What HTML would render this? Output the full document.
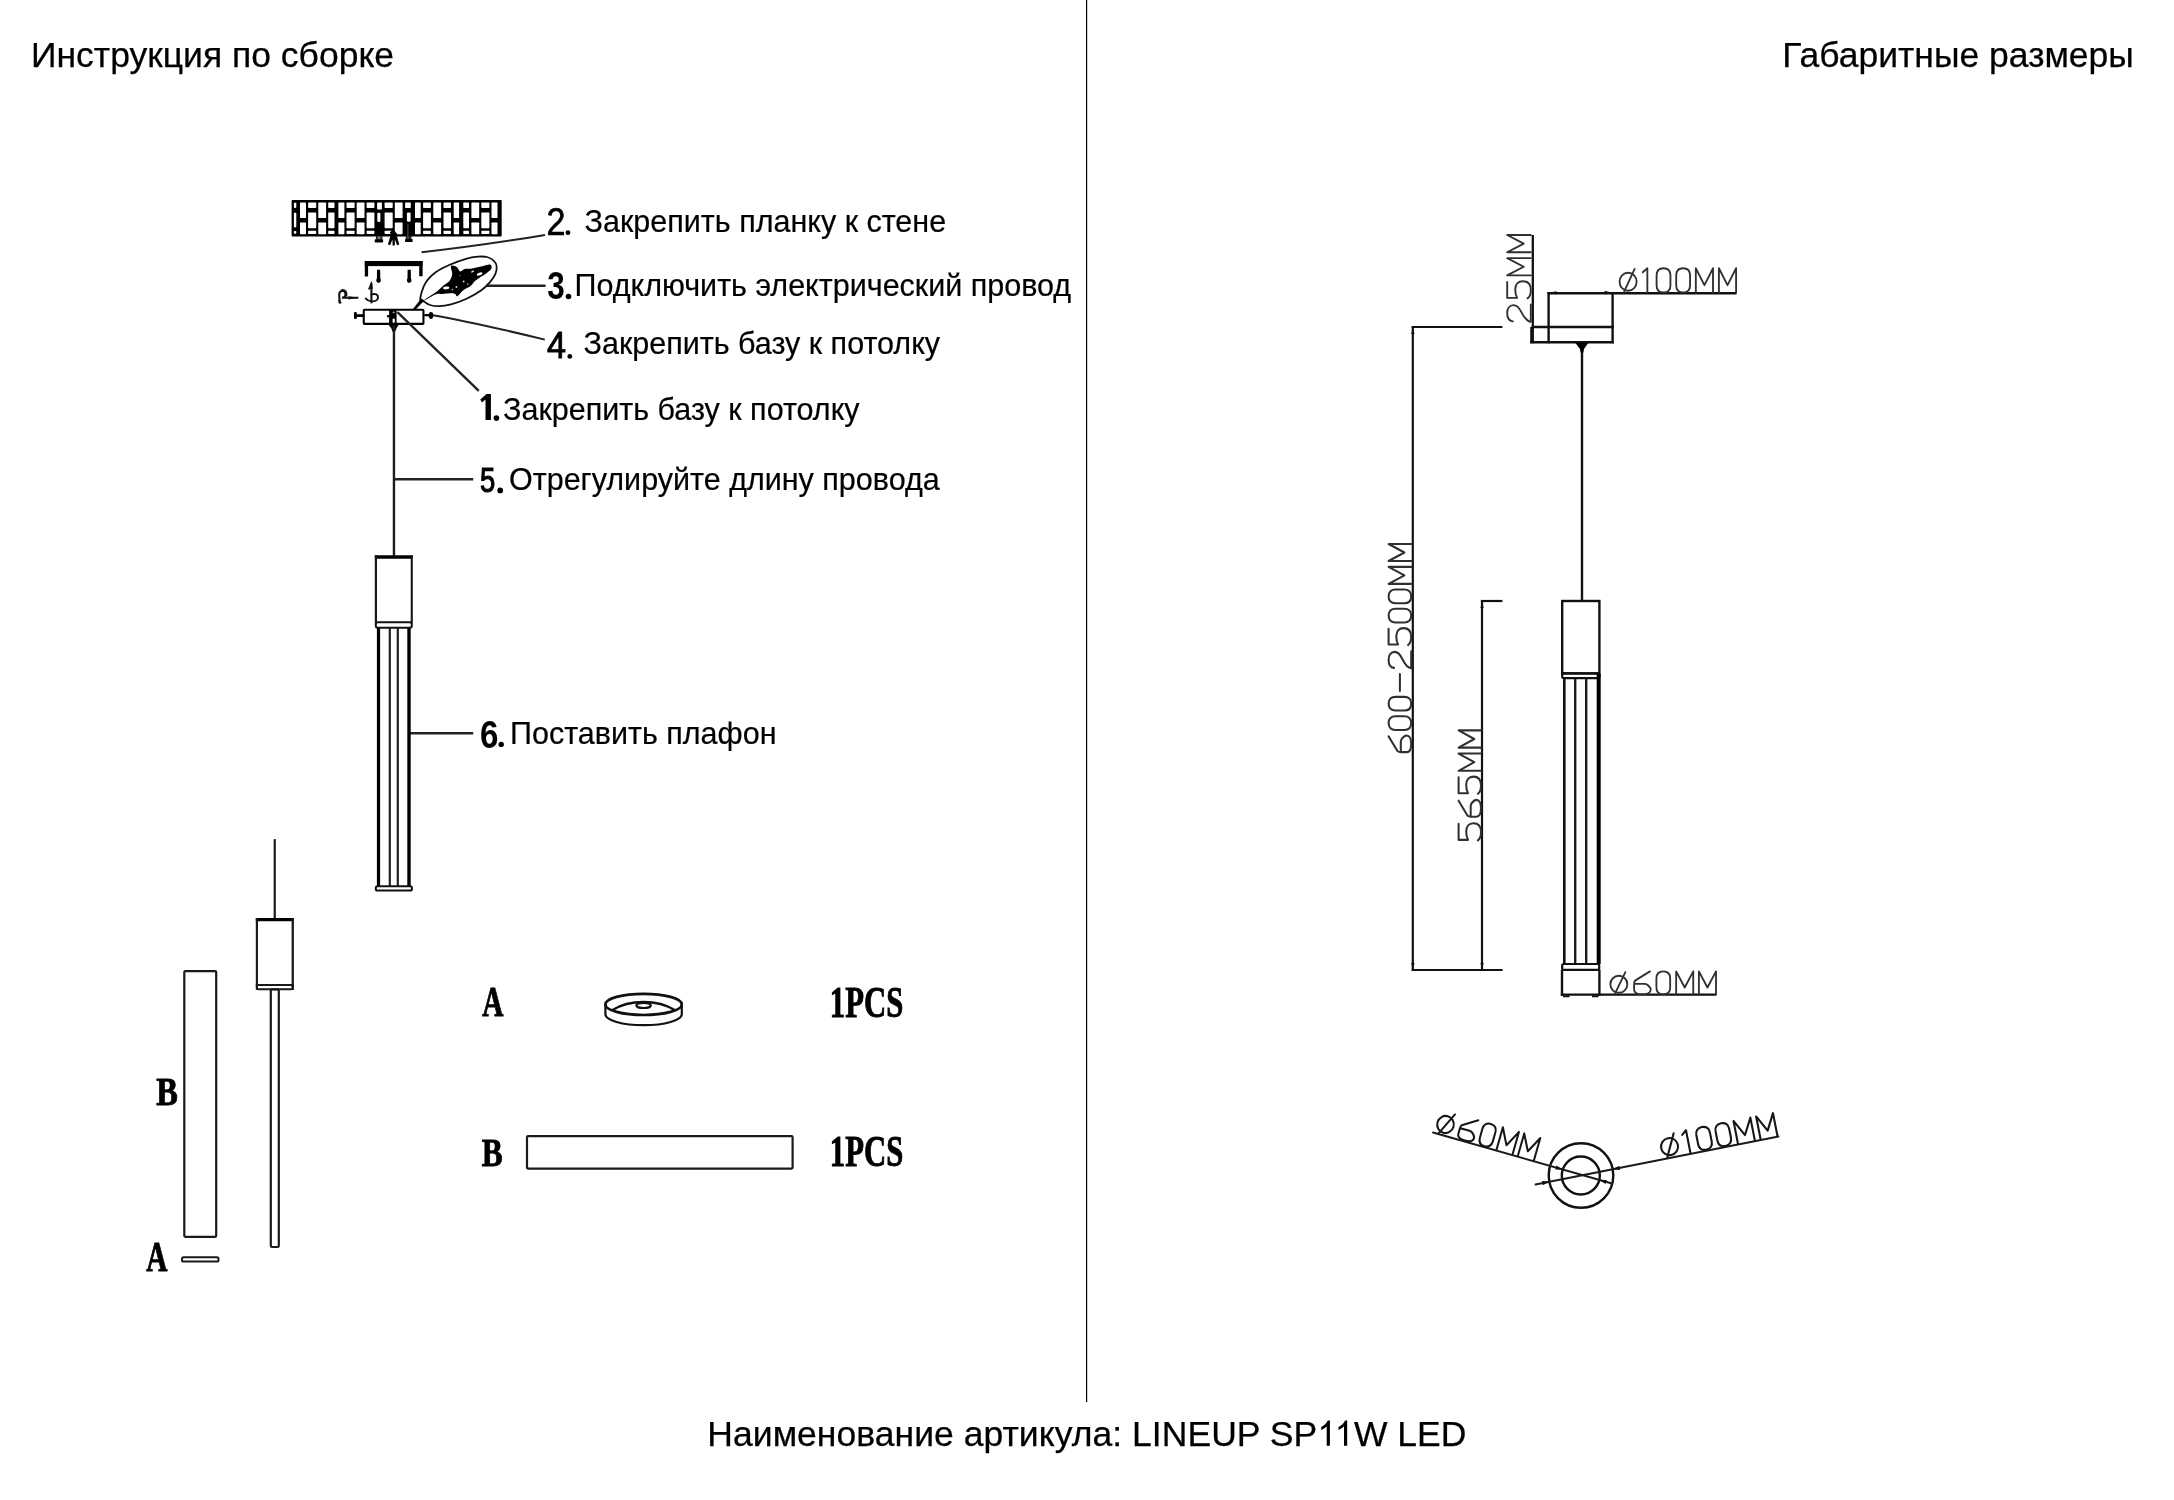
<!DOCTYPE html>
<html><head><meta charset="utf-8"><title>LINEUP SP11W LED</title>
<style>
html,body{margin:0;padding:0;background:#fff;}
body{width:2174px;height:1500px;overflow:hidden;font-family:"Liberation Sans",sans-serif;}
svg{display:block;position:absolute;left:0;top:0;filter:grayscale(1);}
text{font-family:"Liberation Sans",sans-serif;fill:#000;}
.t{font-size:35.5px;stroke:#000;stroke-width:0.25px;}
.l{font-size:30.5px;stroke:#000;stroke-width:0.2px;}
.sf{font-family:"Liberation Serif",serif;font-weight:bold;stroke:#000;stroke-width:0.9px;}
</style></head><body>
<svg width="2174" height="1500" viewBox="0 0 2174 1500">
<rect width="2174" height="1500" fill="#fff"/>
<!--DIVIDER-->
<rect x="1086" y="0" width="1.2" height="1402" fill="#000"/>
<!--TEXT-->
<text class="t" x="31" y="67">Инструкция по сборке</text>
<text class="t" x="1782.3" y="67">Габаритные размеры</text>
<text class="t" x="707.3" y="1446" textLength="609.9" lengthAdjust="spacing">Наименование артикула: LINEUP SP</text>
<path d="M1329.9,1445.8 L1329.9,1420.4 L1327.8,1420.4 C1326.7,1423.2 1323.9,1425.7 1321.2,1426.9 L1321.2,1430.0 C1323.4,1429.1 1325.3,1427.9 1326.7,1426.3 L1326.7,1445.8 Z"/><path d="M1347.2,1445.8 L1347.2,1420.4 L1345.1,1420.4 C1344.0,1423.2 1341.2,1425.7 1338.5,1426.9 L1338.5,1430.0 C1340.7,1429.1 1342.6,1427.9 1344.0,1426.3 L1344.0,1445.8 Z"/>
<text class="t" x="1354" y="1446">W LED</text>
<text class="l" x="584.6" y="232">Закрепить планку к стене</text>
<text class="l" x="574.5" y="296">Подключить электрический провод</text>
<text class="l" x="583.5" y="354">Закрепить базу к потолку</text>
<text class="l" x="503" y="420">Закрепить базу к потолку</text>
<text class="l" x="509" y="490">Отрегулируйте длину провода</text>
<text class="l" x="510" y="744">Поставить плафон</text>
<rect x="291.6" y="200.1" width="210.1" height="36.3" fill="#000" rx="0.8"/>
<rect x="300" y="202.5" width="6" height="15.6" fill="#fff" rx="0.7"/><rect x="300" y="222.6" width="6" height="11.7" fill="#fff" rx="0.7"/><rect x="308.1" y="202.5" width="8.1" height="5.4" fill="#fff" rx="0.7"/><rect x="308.1" y="212.4" width="8.1" height="15.9" fill="#fff" rx="0.7"/><rect x="308.1" y="230.7" width="8.1" height="3.3" fill="#fff" rx="0.7"/><rect x="318.3" y="202.5" width="7.8" height="15.6" fill="#fff" rx="0.7"/><rect x="318.3" y="222.6" width="7.8" height="11.7" fill="#fff" rx="0.7"/><rect x="328.2" y="202.5" width="6.3" height="5.4" fill="#fff" rx="0.7"/><rect x="328.2" y="212.4" width="6.3" height="15.9" fill="#fff" rx="0.7"/><rect x="328.2" y="230.7" width="6.3" height="3.3" fill="#fff" rx="0.7"/><rect x="338.4" y="202.5" width="6" height="15.6" fill="#fff" rx="0.7"/><rect x="338.4" y="222.6" width="6" height="11.7" fill="#fff" rx="0.7"/><rect x="346.5" y="202.5" width="8.1" height="5.4" fill="#fff" rx="0.7"/><rect x="346.5" y="212.4" width="8.1" height="15.9" fill="#fff" rx="0.7"/><rect x="346.5" y="230.7" width="8.1" height="3.3" fill="#fff" rx="0.7"/><rect x="356.7" y="202.5" width="7.8" height="15.6" fill="#fff" rx="0.7"/><rect x="356.7" y="222.6" width="7.8" height="11.7" fill="#fff" rx="0.7"/><rect x="366.6" y="202.5" width="7.8" height="5.4" fill="#fff" rx="0.7"/><rect x="366.6" y="212.4" width="7.8" height="15.9" fill="#fff" rx="0.7"/><rect x="366.6" y="230.7" width="7.8" height="3.3" fill="#fff" rx="0.7"/><rect x="384.6" y="202.5" width="8.1" height="5.4" fill="#fff" rx="0.7"/><rect x="384.6" y="212.4" width="8.1" height="15.9" fill="#fff" rx="0.7"/><rect x="384.6" y="230.7" width="8.1" height="3.3" fill="#fff" rx="0.7"/><rect x="394.8" y="202.5" width="7.8" height="15.6" fill="#fff" rx="0.7"/><rect x="394.8" y="222.6" width="7.8" height="11.7" fill="#fff" rx="0.7"/><rect x="415" y="202.5" width="5.7" height="15.6" fill="#fff" rx="0.7"/><rect x="415" y="222.6" width="5.7" height="11.7" fill="#fff" rx="0.7"/><rect x="423.1" y="202.5" width="7.8" height="5.4" fill="#fff" rx="0.7"/><rect x="423.1" y="212.4" width="7.8" height="15.9" fill="#fff" rx="0.7"/><rect x="423.1" y="230.7" width="7.8" height="3.3" fill="#fff" rx="0.7"/><rect x="433.3" y="202.5" width="7.8" height="15.6" fill="#fff" rx="0.7"/><rect x="433.3" y="222.6" width="7.8" height="11.7" fill="#fff" rx="0.7"/><rect x="443.5" y="202.5" width="7.5" height="5.4" fill="#fff" rx="0.7"/><rect x="443.5" y="212.4" width="7.5" height="15.9" fill="#fff" rx="0.7"/><rect x="443.5" y="230.7" width="7.5" height="3.3" fill="#fff" rx="0.7"/><rect x="453.7" y="202.5" width="5.4" height="15.6" fill="#fff" rx="0.7"/><rect x="453.7" y="222.6" width="5.4" height="11.7" fill="#fff" rx="0.7"/><rect x="463.3" y="202.5" width="5.7" height="5.4" fill="#fff" rx="0.7"/><rect x="463.3" y="212.4" width="5.7" height="15.9" fill="#fff" rx="0.7"/><rect x="463.3" y="230.7" width="5.7" height="3.3" fill="#fff" rx="0.7"/><rect x="471.4" y="202.5" width="7.8" height="15.6" fill="#fff" rx="0.7"/><rect x="471.4" y="222.6" width="7.8" height="11.7" fill="#fff" rx="0.7"/><rect x="481.3" y="202.5" width="8.1" height="5.4" fill="#fff" rx="0.7"/><rect x="481.3" y="212.4" width="8.1" height="15.9" fill="#fff" rx="0.7"/><rect x="481.3" y="230.7" width="8.1" height="3.3" fill="#fff" rx="0.7"/><rect x="491.5" y="202.5" width="6" height="15.6" fill="#fff" rx="0.7"/><rect x="491.5" y="222.6" width="6" height="11.7" fill="#fff" rx="0.7"/><rect x="293.9" y="202.8" width="2.4" height="5.1" fill="#fff" rx="0.8"/><rect x="293.9" y="212.7" width="2.4" height="14.7" fill="#fff" rx="0.8"/><rect x="293.9" y="230.9" width="2.4" height="2.9" fill="#fff" rx="0.8"/><rect x="377.1" y="202.5" width="4.8" height="6.9" fill="#fff" rx="0.7"/><rect x="377.3" y="212.7" width="3.1" height="9.3" fill="#fff" rx="1.2"/><rect x="405.1" y="202.5" width="5.7" height="5.4" fill="#fff" rx="0.7"/><rect x="406.9" y="212.4" width="3.7" height="9.3" fill="#fff" rx="1.2"/>
<rect x="376" y="236" width="6.4" height="3.6" fill="#222"/>
<rect x="377.6" y="236.4" width="3" height="2.8" fill="#777"/>
<rect x="374.7" y="239.3" width="8.4" height="3.1" fill="#000" rx="0.6"/>
<rect x="405.7" y="236" width="5.8" height="3.4" fill="#222"/>
<rect x="407.3" y="224.5" width="1.2" height="14.3" fill="#4a4a4a"/>
<rect x="405.1" y="239" width="7.5" height="3.1" fill="#000" rx="0.6"/>
<path d="M393.6,230.8 L390.2,236.5 L387.9,244.6 L390.2,245.2 L392.4,239.6 L392.6,245.4 L394.8,245.4 L394.9,239.6 L397.1,245.2 L399.3,244.6 L397,236.5 Z" fill="#000"/>
<path d="M389.6,232.6 L393.6,229.2 L397.4,234.6 L393.6,237Z" fill="#000"/>
<path d="M421.6,252.3 Q488,244.6 545,234.9" fill="none" stroke="#222" stroke-width="2"/>
<rect x="364.8" y="261" width="57.8" height="5.1" fill="#000"/>
<rect x="364.8" y="261" width="3.3" height="15.4" fill="#000" rx="0.5"/>
<rect x="419.2" y="261" width="3.4" height="15.2" fill="#000" rx="0.5"/>
<path d="M377,269.7 L380.2,269.7 L380.3,278.5 C381.4,280 381,282.8 378.6,282.8 C376.2,282.8 375.8,280 376.9,278.5 Z" fill="#000"/>
<path d="M407.6,269.7 L410.8,269.7 L410.9,278.5 C412,280 411.6,282.8 409.2,282.8 C406.8,282.8 406.4,280 407.5,278.5 Z" fill="#000"/>
<path d="M339.6,302.6 L339.2,294.2 C339.4,290.6 343.6,289.6 345.3,292.3 C346.6,294.8 345.4,297.4 342,297.8 L357.6,297.8" fill="none" stroke="#111" stroke-width="2.1" stroke-linecap="round"/>
<path d="M348.5,296.3 L358,297.8 L348.5,299.4Z" fill="#111"/><path d="M342.6,290.4 C345,290.6 346.4,292.6 346,295" fill="none" stroke="#111" stroke-width="2.8" stroke-linecap="round"/>
<path d="M338.6,300 L341.2,303.2" stroke="#111" stroke-width="1.4"/>
<path d="M371.4,284 L371.4,302.4" stroke="#111" stroke-width="2.1" stroke-linecap="round"/>
<path d="M371.5,281.4 L368.4,289.2 L372.4,288.8Z" fill="#111" stroke="#111" stroke-width="0.6"/>
<path d="M371.6,294.4 C375.4,293 378.4,294.8 378,297.8 C377.6,300.6 374.2,301.6 371.4,301.3 C369,301.1 367,300 365.8,298.6" fill="none" stroke="#111" stroke-width="2" stroke-linecap="round"/>
<rect x="363.75" y="309.75" width="59.7" height="14.15" fill="none" stroke="#000" stroke-width="2.1" rx="0.8"/>
<rect x="356.2" y="314.2" width="6.8" height="2.8" fill="#000"/>
<rect x="354" y="312" width="2.8" height="6.9" fill="#000" rx="1"/>
<rect x="424.3" y="314" width="4.9" height="2.3" fill="#000"/>
<ellipse cx="431" cy="315.5" rx="2.3" ry="3.4" fill="#000"/>
<rect x="389.1" y="309" width="7.5" height="16.8" fill="#000"/>
<rect x="387" y="315" width="2.4" height="2.4" fill="#000" rx="0.8"/>
<circle cx="393.6" cy="312.4" r="0.9" fill="#bbb"/>
<rect x="392.6" y="318.6" width="2.2" height="4.2" fill="#fff" rx="0.9"/>
<path d="M388.5,324.6 L398.8,324.6 L396.4,328.6 L395.2,331.8 L392.5,331.8 L391.4,328.6Z" fill="#000"/>
<rect x="392.75" y="325" width="2.4" height="231" fill="#1c1c1c"/>
<line x1="397.4" y1="312.2" x2="478.8" y2="390.8" stroke="#222" stroke-width="2.3" stroke-linecap="butt"/>
<path d="M433,315.2 Q470,321.5 544.8,339.6" fill="none" stroke="#222" stroke-width="2"/>
<line x1="486.2" y1="285.7" x2="545.6" y2="285.7" stroke="#222" stroke-width="2.4" stroke-linecap="butt"/>
<line x1="394" y1="479.2" x2="473.2" y2="479.2" stroke="#222" stroke-width="2.5" stroke-linecap="butt"/>
<line x1="409" y1="733.2" x2="473.2" y2="733.2" stroke="#222" stroke-width="2.5" stroke-linecap="butt"/>
<path d="M420.2,299.2 C420.4,296.17 422.57,287.93 425.2,283.4 C427.83,278.87 431.9,275.1 436,272 C440.1,268.9 444.8,267 449.8,264.8 C454.8,262.6 461.3,260.15 466,258.8 C470.7,257.45 474.5,257 478,256.7 C481.5,256.4 484.4,256.35 487,257 C489.6,257.65 492,259.1 493.6,260.6 C495.2,262.1 496.3,263.8 496.6,266 C496.9,268.2 496.5,271.1 495.4,273.8 C494.3,276.5 492.4,279.4 490,282.2 C487.6,285 485,287.8 481,290.6 C477,293.4 471,296.7 466,299 C461,301.3 455.5,303.2 451,304.4 C446.5,305.6 442.5,306.1 439,306.2 C435.5,306.3 432.5,305.77 430,305 C427.5,304.23 425.63,302.57 424,301.6 C422.37,300.63 420,302.23 420.2,299.2Z" fill="none" stroke="#111" stroke-width="1.8"/>
<path d="M421.2,298.4 L412.6,309.6 L415.6,309.6 L424.4,300.6Z" fill="#000"/>
<path d="M423.5,300.6 C423.83,300.17 427.72,297.57 430,296 C432.28,294.43 435,292.9 437.2,291.2 C439.4,289.5 441.1,287.6 443.2,285.8 C445.3,284 448.3,282.4 449.8,280.4 C451.3,278.4 452,276.2 452.2,273.8 C452.4,271.4 450.2,267.1 451,266 C451.8,264.9 455.5,266.3 457,267.2 C458.5,268.1 458.7,271.1 460,271.4 C461.3,271.7 462.8,269.5 464.8,269 C466.8,268.5 469.3,268.8 472,268.4 C474.7,268 478,267.23 481,266.6 C484,265.97 488.3,264.2 490,264.6 C491.7,265 492.2,267.27 491.2,269 C490.2,270.73 485.9,273.6 484,275 C482.1,276.4 481.3,276.4 479.8,277.4 C478.3,278.4 476.5,279.6 475,281 C473.5,282.4 472.8,284.2 470.8,285.8 C468.8,287.4 465.23,288.87 463,290.6 C460.77,292.33 458.9,295.73 457.4,296.2 C455.9,296.67 456.57,293.77 454,293.4 C451.43,293.03 445,293.87 442,294 C439,294.13 438.33,293.43 436,294.2 C433.67,294.97 430.08,297.53 428,298.6 C425.92,299.67 423.17,301.03 423.5,300.6Z" fill="#000"/>
<ellipse cx="446.2" cy="287.9" rx="3.2" ry="1.4" fill="#fff" transform="rotate(-8 446.2 287.9)"/>
<ellipse cx="479.6" cy="274.0" rx="3.0" ry="1.3" fill="#fff" transform="rotate(-20 479.6 274)"/>
<ellipse cx="472.6" cy="271.6" rx="1.6" ry="0.8" fill="#ddd" transform="rotate(-25 472.6 271.6)"/>
<circle cx="463.6" cy="281.6" r="1" fill="#ccc"/><circle cx="456.4" cy="287" r="0.9" fill="#ddd"/><circle cx="467.8" cy="284" r="0.8" fill="#ccc"/><circle cx="460" cy="275.6" r="0.7" fill="#999"/><circle cx="452.4" cy="289.8" r="0.8" fill="#ccc"/>
<rect x="374.8" y="555.2" width="38" height="3.6" fill="#000" rx="0.5"/>
<rect x="374.8" y="555.2" width="2.2" height="68" fill="#161616"/>
<rect x="410.7" y="555.2" width="2.1" height="68" fill="#161616"/>
<rect x="375.8" y="622.2" width="36" height="5.6" fill="none" stroke="#111" stroke-width="2" rx="2"/>
<rect x="376.9" y="628" width="3.2" height="258.5" fill="#000"/>
<rect x="388.7" y="628" width="2.2" height="258.5" fill="#222"/>
<rect x="396.7" y="628" width="2.2" height="258.5" fill="#222"/>
<rect x="407.3" y="628" width="3.4" height="258.5" fill="#000"/>
<rect x="375.8" y="886.2" width="36.1" height="4.3" fill="none" stroke="#111" stroke-width="2" rx="1.6"/>
<rect x="273.65" y="839" width="2.2" height="80" fill="#1c1c1c" rx="0.8"/>
<rect x="255.8" y="918" width="38.2" height="3.2" fill="#000" rx="0.4"/>
<rect x="255.8" y="918" width="2.2" height="72" fill="#1a1a1a"/>
<rect x="291.6" y="918" width="2.3" height="72" fill="#1a1a1a"/>
<line x1="255.8" y1="985" x2="293.9" y2="985" stroke="#1a1a1a" stroke-width="2" stroke-linecap="butt"/>
<rect x="256.9" y="985" width="35.9" height="4.2" fill="none" stroke="#1a1a1a" stroke-width="2" rx="1.4"/>
<rect x="270.8" y="989.4" width="8" height="257.6" fill="none" stroke="#1a1a1a" stroke-width="2.2" rx="1.2"/>
<rect x="184.3" y="971.2" width="31.9" height="265.6" fill="none" stroke="#1a1a1a" stroke-width="2.2" rx="1"/>
<rect x="182" y="1257.3" width="36.5" height="4.2" fill="none" stroke="#1a1a1a" stroke-width="2" rx="1.6"/>
<!--NUMS-->
<g class="n">
<text class="nb" transform="translate(546.5,234.9) scale(0.88,1)" font-size="38.8" stroke="#000" stroke-width="0.7">2</text>
<text class="nb" transform="translate(547.2,299.1) scale(0.81,1)" font-size="38.8" font-weight="bold">3</text>
<text class="nb" transform="translate(547,358.3) scale(0.94,1)" font-size="36.4" stroke="#000" stroke-width="0.9">4</text>
<path d="M480.3,399.4 L486.6,394 L490.9,394 L490.9,420.1 L485.5,420.1 L485.5,399.6 L481.9,402.6 Z"/>
<text class="nb" transform="translate(480,492.1) scale(0.77,1)" font-size="35.6" stroke="#000" stroke-width="1.2">5</text>
<text class="nb" transform="translate(480,748) scale(0.85,1)" font-size="39" font-weight="bold">6</text>
<circle cx="567.95" cy="232.65" r="2.4"/><circle cx="568.5" cy="296.5" r="2.8"/><circle cx="569.8" cy="356.4" r="2.4"/>
<circle cx="496.4" cy="418.1" r="2.8"/><circle cx="500.2" cy="490.4" r="2.9"/><circle cx="501.2" cy="744.4" r="2.7"/>
</g>
<g font-family="Liberation Serif" font-weight="bold">
<text class="sf" transform="translate(156.3,1105) scale(0.79,1)" font-size="41">B</text>
<text class="sf" transform="translate(146.3,1270.5) scale(0.69,1)" font-size="42.5">A</text>
<text class="sf" transform="translate(482.3,1016.4) scale(0.69,1)" font-size="42.5">A</text>
<text class="sf" transform="translate(481.8,1165.8) scale(0.77,1)" font-size="40.6">B</text>
<text class="sf" transform="translate(829.8,1016.8) scale(0.705,1)" font-size="43.6">1PCS</text>
<text class="sf" transform="translate(829.8,1166) scale(0.705,1)" font-size="43.6">1PCS</text>
</g>

<ellipse cx="643.6" cy="1004.4" rx="38.2" ry="10.6" fill="none" stroke="#111" stroke-width="2.7"/>
<path d="M605.4,1004.4 L605.4,1014.2 A38.2,11 0 0 0 681.8,1014.2 L681.8,1004.4" fill="none" stroke="#111" stroke-width="2.2"/>
<path d="M612,1010.2 C622,1004 634,1002 643.6,1002 C653,1002 665,1004 675.2,1010.2" fill="none" stroke="#111" stroke-width="2.5"/>
<ellipse cx="643.6" cy="1005.4" rx="7.2" ry="2.6" fill="#fff" stroke="#111" stroke-width="2.2"/>
<rect x="527" y="1136.2" width="265.6" height="32.4" fill="none" stroke="#1a1a1a" stroke-width="2.2" rx="1"/>
<line x1="1548.6" y1="292.2" x2="1548.6" y2="343.3" stroke="#111" stroke-width="2.4" stroke-linecap="butt"/>
<line x1="1612.6" y1="292.2" x2="1612.6" y2="343.3" stroke="#111" stroke-width="2.4" stroke-linecap="butt"/>
<line x1="1547.4" y1="293.3" x2="1736.6" y2="293.3" stroke="#111" stroke-width="2.4" stroke-linecap="butt"/>
<line x1="1531.6" y1="327" x2="1613.8" y2="327" stroke="#111" stroke-width="2.3" stroke-linecap="butt"/>
<line x1="1530" y1="342.2" x2="1613.8" y2="342.2" stroke="#111" stroke-width="2.4" stroke-linecap="butt"/>
<line x1="1532.8" y1="235" x2="1532.8" y2="343.3" stroke="#111" stroke-width="2.3" stroke-linecap="butt"/>
<rect x="1530.2" y="327" width="1.8" height="16" fill="#111"/>
<path d="M1549.8,292.4 L1556.5,291.2 L1556.5,294.6Z M1611.4,292.4 L1604.5,290.8 L1604.5,294.6Z" fill="#111"/>
<line x1="1411.7" y1="327" x2="1502.4" y2="327" stroke="#111" stroke-width="2.2" stroke-linecap="butt"/>
<line x1="1412.8" y1="326" x2="1412.8" y2="971" stroke="#111" stroke-width="2.2" stroke-linecap="butt"/>
<line x1="1411.7" y1="970" x2="1502.6" y2="970" stroke="#111" stroke-width="2.2" stroke-linecap="butt"/>
<line x1="1482" y1="600" x2="1482" y2="971" stroke="#111" stroke-width="2.2" stroke-linecap="butt"/>
<line x1="1480.9" y1="601" x2="1502.4" y2="601" stroke="#111" stroke-width="2.2" stroke-linecap="butt"/>
<path d="M1412.8,328 L1411.2,334 L1414.6,334Z M1482,602 L1480.4,608 L1483.8,608Z M1412.8,969 L1411.2,963 L1414.6,963Z M1482,969 L1480.4,963 L1483.8,963Z" fill="#111"/>
<rect x="1580.8" y="342" width="2.4" height="259" fill="#111"/>
<path d="M1575.4,343 L1588.2,343 L1584,349 L1583.4,352.5 L1580.6,352.5 L1580,349Z" fill="#000"/>
<rect x="1562.2" y="601" width="37.2" height="72.4" fill="none" stroke="#111" stroke-width="2.4"/>
<rect x="1562.2" y="673.4" width="37.2" height="4.8" fill="none" stroke="#111" stroke-width="2.2" rx="1.6"/>
<rect x="1563" y="679" width="2.6" height="285" fill="#111"/>
<rect x="1574" y="679" width="2.4" height="285" fill="#1c1c1c"/>
<rect x="1585" y="679" width="2.4" height="285" fill="#1c1c1c"/>
<rect x="1596.7" y="674" width="4" height="290" fill="#000"/>
<rect x="1562.2" y="964" width="37" height="5.8" fill="none" stroke="#111" stroke-width="2.2" rx="1.6"/>
<line x1="1562" y1="969.8" x2="1562" y2="995.8" stroke="#111" stroke-width="2.4" stroke-linecap="butt"/>
<line x1="1599.4" y1="969.8" x2="1599.4" y2="995.8" stroke="#111" stroke-width="2.4" stroke-linecap="butt"/>
<line x1="1560.8" y1="994.6" x2="1716.2" y2="994.6" stroke="#111" stroke-width="2.4" stroke-linecap="butt"/>
<path d="M1563,995.2 L1569.5,995.2 L1569.5,997.2 L1563,997.2Z M1592,995.2 L1598.5,995.2 L1598.5,997.2 L1592,997.2Z" fill="#111"/>
<circle cx="1581" cy="1175.5" r="32.3" fill="none" stroke="#111" stroke-width="2.4"/>
<circle cx="1580.8" cy="1175.5" r="19" fill="none" stroke="#111" stroke-width="2.4"/>
<line x1="1433" y1="1132.5" x2="1612" y2="1183.5" stroke="#1a1a1a" stroke-width="1.9" stroke-linecap="round"/>
<line x1="1535.5" y1="1184.5" x2="1778.5" y2="1136.5" stroke="#1a1a1a" stroke-width="1.9" stroke-linecap="round"/>
<path d="M1562.6,1169.4 L1555.29,1169.5 L1556.44,1165.46 Z" fill="#111"/>
<path d="M1599.4,1180 L1606.71,1179.9 L1605.56,1183.94 Z" fill="#111"/>
<path d="M1549.2,1181.8 L1542.74,1185.21 L1541.93,1181.09 Z" fill="#111"/>
<path d="M1612.8,1169.2 L1619.26,1165.79 L1620.07,1169.91 Z" fill="#111"/>
<g transform="translate(1530.8,321.8) rotate(-90) scale(23.18,23.6) translate(0,-1)" fill="none" stroke="#303030" stroke-width="0.08" vector-effect="non-scaling-stroke" stroke-linejoin="round" stroke-linecap="round"><path transform="translate(0,0)" d="M0.02,0.24 C0.04,0.08 0.17,0 0.37,0 C0.58,0 0.72,0.1 0.72,0.27 C0.72,0.42 0.62,0.5 0.42,0.6 C0.18,0.72 0.02,0.82 0,1 L0.745,1"/><path transform="translate(0.99,0)" d="M0.73,0 L0.04,0 L0.04,0.42 C0.14,0.36 0.25,0.34 0.4,0.34 C0.63,0.34 0.76,0.47 0.76,0.66 C0.76,0.87 0.62,1 0.38,1 C0.2,1 0.08,0.95 0.02,0.86"/><path transform="translate(2,0)" d="M0,1 L0,0 L0.3725,0.7 L0.745,0 L0.745,1"/><path transform="translate(3,0)" d="M0,1 L0,0 L0.3725,0.7 L0.745,0 L0.745,1"/></g>
<g transform="translate(1619.2,292.4) rotate(0) scale(23.08,24.2) translate(0,-1)" fill="none" stroke="#303030" stroke-width="0.08" vector-effect="non-scaling-stroke" stroke-linejoin="round" stroke-linecap="round"><path transform="translate(0,0)" d="M0.755,0.56 A0.37,0.37 0 1 1 0.015,0.56 A0.37,0.37 0 1 1 0.755,0.56 Z M0.2,1 L0.67,0.03"/><path transform="translate(1.02,0)" d="M0,0.17 L0.2,0 L0.2,1"/><path transform="translate(1.62,0)" d="M0.3,0 C0.1,0 0,0.12 0,0.3 L0,0.7 C0,0.88 0.1,1 0.3,1 C0.5,1 0.6,0.88 0.6,0.7 L0.6,0.3 C0.6,0.12 0.5,0 0.3,0 Z"/><path transform="translate(2.47,0)" d="M0.3,0 C0.1,0 0,0.12 0,0.3 L0,0.7 C0,0.88 0.1,1 0.3,1 C0.5,1 0.6,0.88 0.6,0.7 L0.6,0.3 C0.6,0.12 0.5,0 0.3,0 Z"/><path transform="translate(3.32,0)" d="M0,1 L0,0 L0.3725,0.7 L0.745,0 L0.745,1"/><path transform="translate(4.32,0)" d="M0,1 L0,0 L0.3725,0.7 L0.745,0 L0.745,1"/></g>
<g transform="translate(1411.2,752.8) rotate(-90) scale(22.83,22.6) translate(0,-1)" fill="none" stroke="#303030" stroke-width="0.09" vector-effect="non-scaling-stroke" stroke-linejoin="round" stroke-linecap="round"><path transform="translate(0,0)" d="M0.72,0 L0.07,0.4 C0.04,0.44 0.03,0.48 0.03,0.55 L0.03,0.8 C0.03,0.93 0.17,1 0.39,1 C0.61,1 0.755,0.93 0.755,0.79 C0.755,0.71 0.7,0.66 0.62,0.59 C0.58,0.555 0.55,0.54 0.47,0.54 L0.05,0.54"/><path transform="translate(1,0)" d="M0.3,0 C0.1,0 0,0.12 0,0.3 L0,0.7 C0,0.88 0.1,1 0.3,1 C0.5,1 0.6,0.88 0.6,0.7 L0.6,0.3 C0.6,0.12 0.5,0 0.3,0 Z"/><path transform="translate(1.85,0)" d="M0.3,0 C0.1,0 0,0.12 0,0.3 L0,0.7 C0,0.88 0.1,1 0.3,1 C0.5,1 0.6,0.88 0.6,0.7 L0.6,0.3 C0.6,0.12 0.5,0 0.3,0 Z"/><path transform="translate(2.71,0)" d="M0,0.5 L0.745,0.5"/><path transform="translate(3.7,0)" d="M0.02,0.24 C0.04,0.08 0.17,0 0.37,0 C0.58,0 0.72,0.1 0.72,0.27 C0.72,0.42 0.62,0.5 0.42,0.6 C0.18,0.72 0.02,0.82 0,1 L0.745,1"/><path transform="translate(4.7,0)" d="M0.73,0 L0.04,0 L0.04,0.42 C0.14,0.36 0.25,0.34 0.4,0.34 C0.63,0.34 0.76,0.47 0.76,0.66 C0.76,0.87 0.62,1 0.38,1 C0.2,1 0.08,0.95 0.02,0.86"/><path transform="translate(5.71,0)" d="M0.3,0 C0.1,0 0,0.12 0,0.3 L0,0.7 C0,0.88 0.1,1 0.3,1 C0.5,1 0.6,0.88 0.6,0.7 L0.6,0.3 C0.6,0.12 0.5,0 0.3,0 Z"/><path transform="translate(6.55,0)" d="M0.3,0 C0.1,0 0,0.12 0,0.3 L0,0.7 C0,0.88 0.1,1 0.3,1 C0.5,1 0.6,0.88 0.6,0.7 L0.6,0.3 C0.6,0.12 0.5,0 0.3,0 Z"/><path transform="translate(7.4,0)" d="M0,1 L0,0 L0.3725,0.7 L0.745,0 L0.745,1"/><path transform="translate(8.4,0)" d="M0,1 L0,0 L0.3725,0.7 L0.745,0 L0.745,1"/></g>
<g transform="translate(1481,840.8) rotate(-90) scale(23.17,22.4) translate(0,-1)" fill="none" stroke="#303030" stroke-width="0.09" vector-effect="non-scaling-stroke" stroke-linejoin="round" stroke-linecap="round"><path transform="translate(0,0)" d="M0.73,0 L0.04,0 L0.04,0.42 C0.14,0.36 0.25,0.34 0.4,0.34 C0.63,0.34 0.76,0.47 0.76,0.66 C0.76,0.87 0.62,1 0.38,1 C0.2,1 0.08,0.95 0.02,0.86"/><path transform="translate(1.01,0)" d="M0.72,0 L0.07,0.4 C0.04,0.44 0.03,0.48 0.03,0.55 L0.03,0.8 C0.03,0.93 0.17,1 0.39,1 C0.61,1 0.755,0.93 0.755,0.79 C0.755,0.71 0.7,0.66 0.62,0.59 C0.58,0.555 0.55,0.54 0.47,0.54 L0.05,0.54"/><path transform="translate(2.01,0)" d="M0.73,0 L0.04,0 L0.04,0.42 C0.14,0.36 0.25,0.34 0.4,0.34 C0.63,0.34 0.76,0.47 0.76,0.66 C0.76,0.87 0.62,1 0.38,1 C0.2,1 0.08,0.95 0.02,0.86"/><path transform="translate(3.02,0)" d="M0,1 L0,0 L0.3725,0.7 L0.745,0 L0.745,1"/><path transform="translate(4.02,0)" d="M0,1 L0,0 L0.3725,0.7 L0.745,0 L0.745,1"/></g>
<g transform="translate(1610,994.4) rotate(0) scale(22.97,23) translate(0,-1)" fill="none" stroke="#303030" stroke-width="0.08" vector-effect="non-scaling-stroke" stroke-linejoin="round" stroke-linecap="round"><path transform="translate(0,0)" d="M0.755,0.56 A0.37,0.37 0 1 1 0.015,0.56 A0.37,0.37 0 1 1 0.755,0.56 Z M0.2,1 L0.67,0.03"/><path transform="translate(1.02,0)" d="M0.72,0 L0.07,0.4 C0.04,0.44 0.03,0.48 0.03,0.55 L0.03,0.8 C0.03,0.93 0.17,1 0.39,1 C0.61,1 0.755,0.93 0.755,0.79 C0.755,0.71 0.7,0.66 0.62,0.59 C0.58,0.555 0.55,0.54 0.47,0.54 L0.05,0.54"/><path transform="translate(2.02,0)" d="M0.3,0 C0.1,0 0,0.12 0,0.3 L0,0.7 C0,0.88 0.1,1 0.3,1 C0.5,1 0.6,0.88 0.6,0.7 L0.6,0.3 C0.6,0.12 0.5,0 0.3,0 Z"/><path transform="translate(2.88,0)" d="M0,1 L0,0 L0.3725,0.7 L0.745,0 L0.745,1"/><path transform="translate(3.87,0)" d="M0,1 L0,0 L0.3725,0.7 L0.745,0 L0.745,1"/></g>
<g transform="translate(1434.4,1131.95) rotate(15.9) scale(22.43,23.2) translate(0,-1)" fill="none" stroke="#161616" stroke-width="0.09" vector-effect="non-scaling-stroke" stroke-linejoin="round" stroke-linecap="round"><path transform="translate(0,0)" d="M0.755,0.56 A0.37,0.37 0 1 1 0.015,0.56 A0.37,0.37 0 1 1 0.755,0.56 Z M0.2,1 L0.67,0.03"/><path transform="translate(1.02,0)" d="M0.72,0 L0.07,0.4 C0.04,0.44 0.03,0.48 0.03,0.55 L0.03,0.8 C0.03,0.93 0.17,1 0.39,1 C0.61,1 0.755,0.93 0.755,0.79 C0.755,0.71 0.7,0.66 0.62,0.59 C0.58,0.555 0.55,0.54 0.47,0.54 L0.05,0.54"/><path transform="translate(2.02,0)" d="M0.3,0 C0.1,0 0,0.12 0,0.3 L0,0.7 C0,0.88 0.1,1 0.3,1 C0.5,1 0.6,0.88 0.6,0.7 L0.6,0.3 C0.6,0.12 0.5,0 0.3,0 Z"/><path transform="translate(2.88,0)" d="M0,1 L0,0 L0.3725,0.7 L0.745,0 L0.745,1"/><path transform="translate(3.87,0)" d="M0,1 L0,0 L0.3725,0.7 L0.745,0 L0.745,1"/></g>
<g transform="translate(1662.8,1158.2) rotate(-11.1) scale(23.06,23) translate(0,-1)" fill="none" stroke="#161616" stroke-width="0.09" vector-effect="non-scaling-stroke" stroke-linejoin="round" stroke-linecap="round"><path transform="translate(0,0)" d="M0.755,0.56 A0.37,0.37 0 1 1 0.015,0.56 A0.37,0.37 0 1 1 0.755,0.56 Z M0.2,1 L0.67,0.03"/><path transform="translate(1.02,0)" d="M0,0.17 L0.2,0 L0.2,1"/><path transform="translate(1.62,0)" d="M0.3,0 C0.1,0 0,0.12 0,0.3 L0,0.7 C0,0.88 0.1,1 0.3,1 C0.5,1 0.6,0.88 0.6,0.7 L0.6,0.3 C0.6,0.12 0.5,0 0.3,0 Z"/><path transform="translate(2.47,0)" d="M0.3,0 C0.1,0 0,0.12 0,0.3 L0,0.7 C0,0.88 0.1,1 0.3,1 C0.5,1 0.6,0.88 0.6,0.7 L0.6,0.3 C0.6,0.12 0.5,0 0.3,0 Z"/><path transform="translate(3.32,0)" d="M0,1 L0,0 L0.3725,0.7 L0.745,0 L0.745,1"/><path transform="translate(4.32,0)" d="M0,1 L0,0 L0.3725,0.7 L0.745,0 L0.745,1"/></g>
</svg>
</body></html>
